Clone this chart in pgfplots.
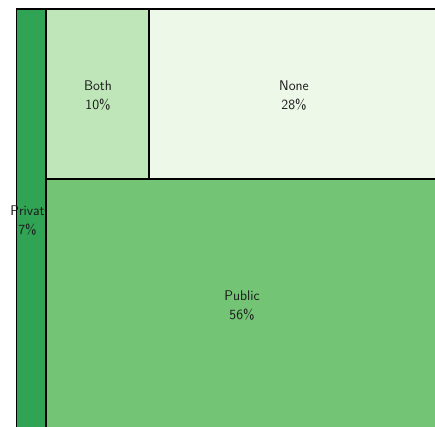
\documentclass[border=0pt]{standalone}
\usepackage{pgfplots}
\pgfplotsset{compat=1.18}
\definecolor{cPriv}{HTML}{31A354}
\definecolor{cBoth}{HTML}{BFE6B8}
\definecolor{cNone}{HTML}{EDF8E9}
\definecolor{cPub}{HTML}{74C476}
\tikzset{lab/.style={font=\sffamily\fontsize{14}{19.5}\selectfont, align=center, text=black!90, inner sep=0pt}}
\begin{document}
\begin{tikzpicture}
\begin{axis}[
  scale only axis, width=435pt, height=426pt,
  xmin=0, xmax=435, ymin=0, ymax=426, y dir=reverse,
  axis line style={draw=none}, ticks=none, clip mode=individual,
]
% Private 7%
\addplot [fill=cPriv, draw=black, line width=1.3pt] coordinates {(16.5,9) (46,9) (46,428) (16.5,428)} -- cycle;
% Both 10%
\addplot [fill=cBoth, draw=black, line width=1.3pt] coordinates {(46,9) (149,9) (149,179) (46,179)} -- cycle;
% None 28%
\addplot [fill=cNone, draw=black, line width=1.3pt] coordinates {(149,9) (437,9) (437,179) (149,179)} -- cycle;
% Public 56%
\addplot [fill=cPub, draw=black, line width=1.3pt] coordinates {(46,179) (437,179) (437,428) (46,428)} -- cycle;
\node[lab] at (axis cs:98,95.5) {Both\\10\%};
\node[lab] at (axis cs:294,95.5) {None\\28\%};
\node[lab] at (axis cs:242,305.5) {Public\\56\%};
\node[lab] at (axis cs:27.5,220.5) {Privat\\7\%};
\end{axis}
\end{tikzpicture}
\end{document}
